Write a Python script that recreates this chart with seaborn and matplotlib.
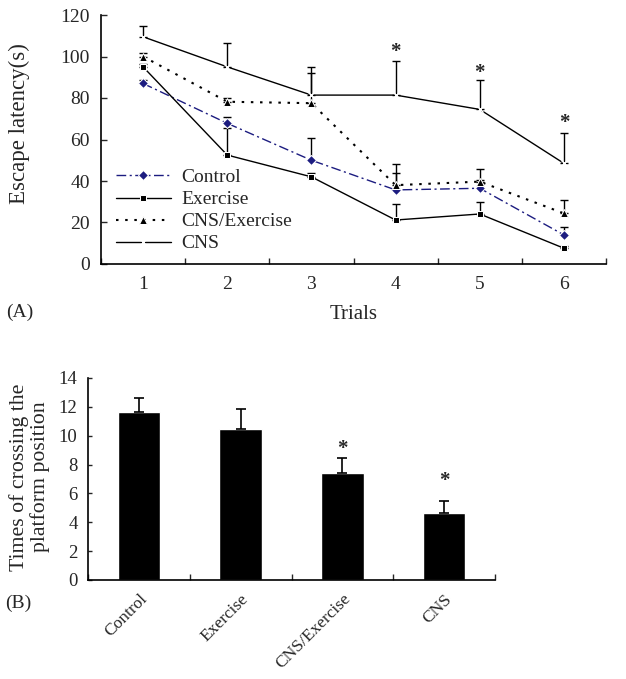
import numpy as np
import pandas as pd
import matplotlib
matplotlib.use("Agg")
import matplotlib.pyplot as plt
import seaborn as sns

# ---------------- data ----------------
trials = [1, 2, 3, 4, 5, 6]
groups = ["Control", "Exercise", "CNS/Exercise", "CNS"]

control_lat = [87, 67.8, 50, 35.7, 36.5, 14]
control_err = [1.5, 3, 10.6, 8, 4, 3.7]
exercise_lat = [95, 52.5, 42, 21.2, 24.1, 7.6]
exercise_err = [1.5, 13, 2, 7.7, 5.6, 1]
cnsex_lat = [100, 78.2, 77.5, 38, 39.7, 24.4]
cnsex_err = [1.7, 2, 14.5, 10, 6, 6.4]
cns_lat = [109.5, 95, 81.4, 81.4, 74.5, 48.5]
cns_err = [5, 11.5, 13.6, 16.4, 14, 14.8]
sig_trials = [4, 5, 6]
sig_trials_star = [103.1, 92.7, 68.6]

cross_mean = [11.67, 10.5, 7.4, 4.67]
cross_err = [0.96, 1.35, 1.08, 0.83]
sig_groups = ["CNS/Exercise", "CNS"]
sig_groups_star = [9.2, 7.0]

# ---------------- style ----------------
sns.set_style("ticks")
plt.rcParams["font.family"] = ["Liberation Serif", "DejaVu Serif"]

fig = plt.figure(figsize=(6.26, 6.79), dpi=100)
W, H = 626, 679


def px_axes(l, t, r, b):
    return fig.add_axes([l / W, 1 - b / H, (r - l) / W, (b - t) / H])


navy = "#1c1c80"
series = [
    ("Control", control_lat, control_err, dict(color=navy, marker="D", markersize=5,
                                               dashes=(7, 2.5, 1.5, 2.5), linewidth=1.0)),
    ("Exercise", exercise_lat, exercise_err, dict(color="black", marker="s", markersize=5,
                                                  linestyle="-", linewidth=1.0)),
    ("CNS/Exercise", cnsex_lat, cnsex_err, dict(color="black", marker="^", markersize=6,
                                                dashes=(1.2, 3.2), linewidth=1.5)),
    ("CNS", cns_lat, cns_err, dict(color="black", marker="x", markersize=4.5, markeredgewidth=1.0,
                                   linestyle="-", linewidth=1.0)),
]

# ---------------- panel A ----------------
ax1 = px_axes(101, 15, 606, 264)
for name, vals, errs, kw in series:
    ax1.errorbar(trials, vals, yerr=[np.zeros(len(errs)), errs], fmt="none",
                 ecolor="black", elinewidth=1.0, capsize=3, capthick=1.0, zorder=2)
for name, vals, errs, kw in series:
    df = pd.DataFrame({"Trials": trials, "lat": vals})
    sns.lineplot(data=df, x="Trials", y="lat", ax=ax1, label=name, zorder=3, **kw)

for t, v in zip(sig_trials, sig_trials_star):
    ax1.annotate("*", (t, v), xytext=(0, -8.5), textcoords="offset points",
                 ha="center", va="bottom", fontsize=15, fontweight="bold")

ax1.set_xlim(0.5, 6.5)
ax1.set_ylim(0, 120)
ax1.set_xticks(trials)
ax1.set_xticklabels([str(t) for t in trials])
ax1.set_xticks(np.arange(0.5, 7.0, 1.0), minor=True)
ax1.set_yticks(np.arange(0, 121, 20))
ax1.tick_params(axis="x", which="major", length=0, pad=9, labelsize=14)
ax1.tick_params(axis="x", which="minor", direction="in", length=4, width=1)
ax1.tick_params(axis="y", direction="in", length=4, width=1, pad=8, labelsize=14)
ax1.set_xlabel("Trials", fontsize=15, labelpad=8)
ax1.set_ylabel("Escape latency(s)", fontsize=16.5)
ax1.yaxis.set_label_coords(-0.14, 0.564)
sns.despine(ax=ax1)
for s in ("left", "bottom"):
    ax1.spines[s].set_linewidth(1.2)
    ax1.spines[s].set_color("black")

leg = ax1.legend(loc="upper left", bbox_to_anchor=(0.03, 0.383), frameon=False,
                 fontsize=14, handlelength=2.8, handletextpad=0.57,
                 labelspacing=0.23, borderpad=0, borderaxespad=0)
fig.text(20 / W, 1 - 312 / H, "(A)", ha="center", va="center", fontsize=14)

# ---------------- panel B ----------------
ax2 = px_axes(88, 378, 495, 580)
sns.barplot(x=groups, y=cross_mean, ax=ax2, color="black", saturation=1,
            width=0.42, errorbar=None)
ax2.errorbar(range(len(groups)), cross_mean, yerr=[np.zeros(len(groups)), cross_err],
             fmt="none", ecolor="black", elinewidth=1.2, capsize=3.5, capthick=1.2)
for g, v in zip(sig_groups, sig_groups_star):
    i = groups.index(g)
    ax2.annotate("*", (i, v), xytext=(0, -8.5), textcoords="offset points",
                 ha="center", va="bottom", fontsize=15, fontweight="bold")

ax2.set_xlim(-0.5, 3.5)
ax2.set_ylim(0, 14)
ax2.set_yticks(np.arange(0, 15, 2))
ax2.set_xticks(np.arange(-0.5, 4.0, 1.0), minor=True)
ax2.tick_params(axis="x", which="major", length=0, pad=8, labelsize=12.5)
ax2.tick_params(axis="x", which="minor", direction="in", length=4, width=1)
ax2.tick_params(axis="y", direction="in", length=3, width=1, pad=7.5, labelsize=13.5)
for lab in ax2.get_xticklabels():
    lab.set_rotation(45)
    lab.set_ha("right")
    lab.set_va("top")
    lab.set_rotation_mode("anchor")
ax2.set_xlabel("")
ax2.set_ylabel("Times of crossing the\nplatform position", fontsize=15.7, linespacing=1.05)
ax2.yaxis.set_label_coords(-0.093, 0.51)
sns.despine(ax=ax2)
for s in ("left", "bottom"):
    ax2.spines[s].set_linewidth(1.2)
    ax2.spines[s].set_color("black")
fig.text(18 / W, 1 - 603 / H, "(B)", ha="center", va="center", fontsize=14)

fig.savefig("out.png", dpi=100)
